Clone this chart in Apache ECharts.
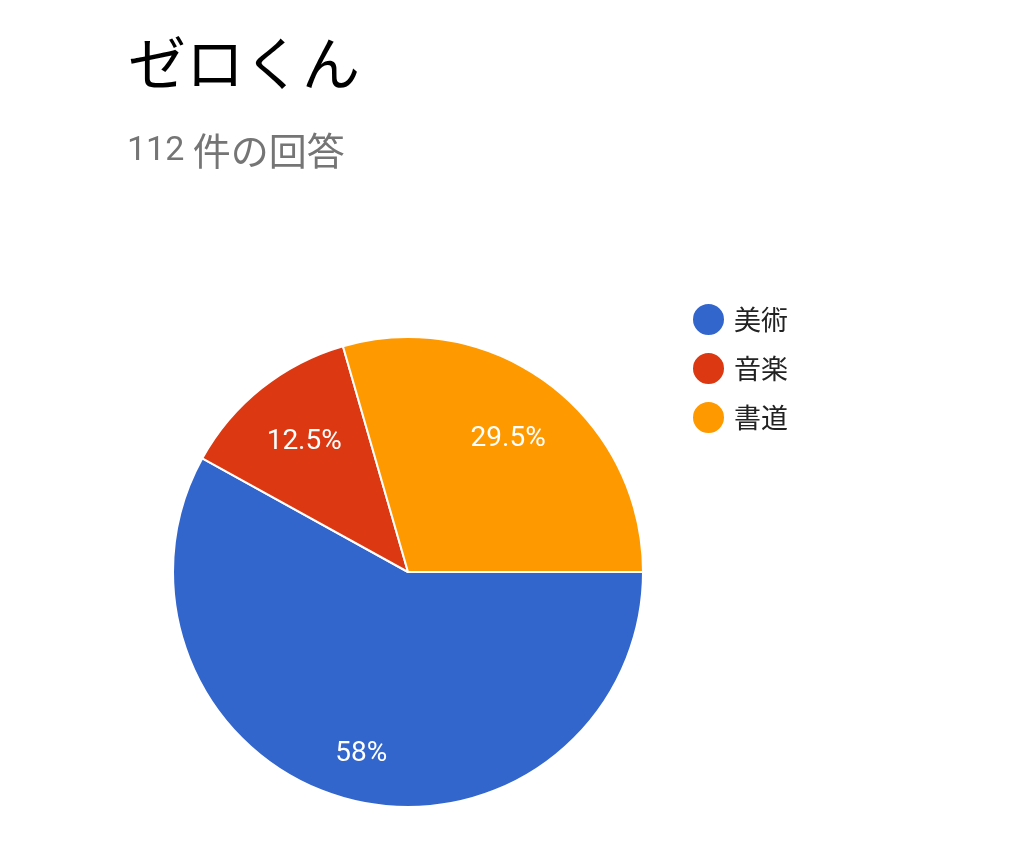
<!DOCTYPE html>
<html><head><meta charset="utf-8">
<script src="https://cdn.jsdelivr.net/npm/echarts@6/dist/echarts.min.js"></script>
<style>html,body{margin:0;padding:0;background:#fff}#c{width:1020px;height:856px}</style>
</head><body><div id="c"></div>
<script>
const titleText = 'ゼロくん';
const responseCount = '112';
const responseSuffix = '件の回答';
const categories = ['美術', '音楽', '書道'];
const counts = [65, 14, 33];
const colors = ['#3366cc', '#dc3912', '#ff9900'];

const chart = echarts.init(document.getElementById('c'));
const total = counts.reduce((a, b) => a + b, 0);
const pieData = categories.map((n, i) => ({ name: n, value: counts[i], itemStyle: { color: colors[i] } }));
// label overlay; largest slice label pushed further out radially (like Google Charts)
let acc = 0;
const labelData = categories.map((n, i) => {
  const mid = (acc + counts[i] / 2) / total * 2 * Math.PI; // clockwise from 3 o'clock
  acc += counts[i];
  const push = counts[i] / total > 0.5 ? 21 : 0;
  return { name: n + ' ', value: counts[i],
    label: { offset: [Math.cos(mid) * push, Math.sin(mid) * push] } };
});
const cx = 408, cy = 572, R = 235;

chart.setOption({
  animation: false,
  title: [{
    text: titleText, left: 123, top: 36,
    textStyle: { fontSize: 58, fontWeight: 'normal', color: '#000', fontFamily: 'Roboto, "Noto Sans CJK JP"' }
  }, {
    text: '{n|' + responseCount + ' }{j|' + responseSuffix + '}', left: 122, top: 127,
    textStyle: { fontWeight: 'normal', rich: {
      n: { fontSize: 34, color: '#757575', fontFamily: 'Roboto', fontWeight: 'normal' },
      j: { fontSize: 38, color: '#757575', fontFamily: '"Noto Sans CJK JP"', fontWeight: 'normal' }
    } }
  }],
  legend: {
    orient: 'vertical', left: 691, top: 302, padding: 0,
    data: categories, icon: 'circle', itemWidth: 33, itemHeight: 33, itemGap: 14,
    textStyle: { fontSize: 27, lineHeight: 33, color: '#222', fontFamily: '"Noto Sans CJK JP"', padding: [0, 0, 0, 4] }
  },
  series: [{
    type: 'pie', center: [cx, cy], radius: [0, R], startAngle: 0, clockwise: true,
    data: pieData, label: { show: false }, labelLine: { show: false }, silent: true,
    itemStyle: { borderColor: '#fff', borderWidth: 2 }
  }, {
    type: 'pie', center: [cx, cy], radius: [92, R], startAngle: 0, clockwise: true,
    data: labelData, silent: true, percentPrecision: 1,
    itemStyle: { color: 'rgba(0,0,0,0)' },
    label: { show: true, position: 'inside', color: '#fff', fontSize: 28, fontFamily: 'Roboto',
      formatter: p => parseFloat(p.percent) + '%' },
    labelLine: { show: false }
  }]
});
</script></body></html>
